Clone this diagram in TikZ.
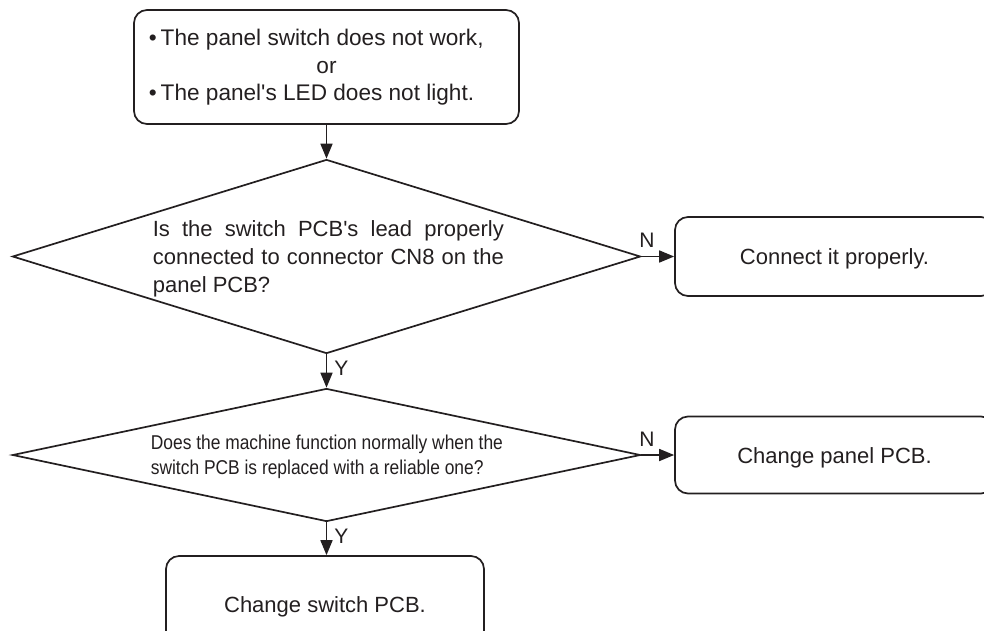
\documentclass[tikz,border=0pt]{standalone}
\usepackage{fontspec}
\setmainfont{Liberation Sans}
\newfontfamily\narrowfont[FakeStretch=0.87]{Liberation Sans}
\usetikzlibrary{shapes.geometric,arrows.meta}
\definecolor{ink}{RGB}{35,31,32}
\begin{document}
\begin{tikzpicture}[x=1pt,y=-1pt,
  line width=1.7pt,
  box/.style={draw=ink, text=ink, rounded corners=13pt, inner sep=0pt,
    font=\fontsize{22}{28}\selectfont, text height=16pt, text depth=0pt},
  decision/.style={draw=ink, diamond, inner sep=0pt,
    minimum width=628pt, minimum height=194pt},
  txt/.style={text=ink, inner sep=0pt, font=\fontsize{22}{28}\selectfont},
  toptxt/.style={text=ink, inner sep=0pt, font=\fontsize{22.6}{28}\selectfont},
  narrowtxt/.style={text=ink, inner sep=0pt, font=\narrowfont\fontsize{20}{25}\selectfont},
  arr/.style={draw=ink, -{Triangle[length=15pt,width=12pt]}},
  yn/.style={text=ink, inner sep=0pt, font=\fontsize{21}{24}\selectfont},
]
\clip (0,0) rectangle (984,630);

% start box
\node[box, minimum width=385pt, minimum height=114pt] (top) at (326.5,67) {};
\node[toptxt, anchor=base west] (t1) at (148,45) {•\hspace{4pt}The panel switch does not work,};
\node[toptxt, anchor=base] (t2) at (326.5,73) {or};
\node[toptxt, anchor=base west] (t3) at (148,100) {•\hspace{4pt}The panel\textquotesingle s LED does not light.};

% decision 1
\node[decision] (d1) at (326.5,256.5) {};
\node[txt, anchor=north west, align=left] (q1) at (152,220)
  {\makebox[351pt][s]{Is the switch PCB\textquotesingle s lead properly}\\
   \makebox[351pt][s]{connected to connector CN8 on the}\\
   panel PCB?};

% decision 2
\node[decision, minimum height=133pt] (d2) at (326.5,455) {};
\node[narrowtxt, anchor=north west, align=left] (q2) at (150,434)
  {Does the machine function normally when the\\
   switch PCB is replaced with a reliable one?};

% result boxes
\node[box, minimum width=319pt, minimum height=79pt] (r1) at (834.5,256.5) {Connect it properly.};
\node[box, minimum width=319pt, minimum height=77pt] (r2) at (834.5,455) {Change panel PCB.};
\node[box, minimum width=318pt, minimum height=96pt] (b3) at (325,604) {Change switch PCB.};

% connectors
\draw[arr] (top.south) -- (d1.north);
\draw[arr] (d1.east) -- node[yn, pos=0.17, anchor=south, yshift=8pt] (n1) {N} (r1.west);
\draw[arr] (d1.south) -- node[yn, pos=0.43, anchor=west, xshift=7pt] (y1) {Y} (d2.north);
\draw[arr] (d2.east) -- node[yn, pos=0.17, anchor=south, yshift=8pt] (n2) {N} (r2.west);
\draw[arr] (d2.south) -- node[yn, pos=0.41, anchor=west, xshift=7pt] (y2) {Y} (d2.south |- b3.north);
\end{tikzpicture}
\end{document}
